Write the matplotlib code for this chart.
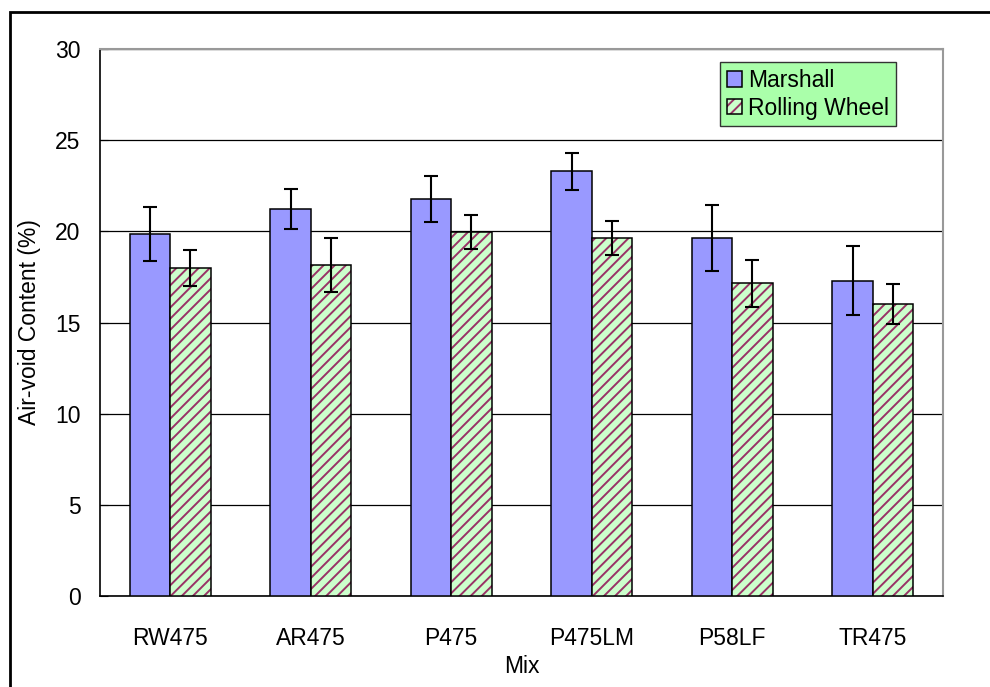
import matplotlib
matplotlib.use('Agg')
import matplotlib.pyplot as plt
from matplotlib.patches import Rectangle, Patch
from matplotlib.legend_handler import HandlerTuple
import numpy as np

# data
mixes = ['RW475', 'AR475', 'P475', 'P475LM', 'P58LF', 'TR475']
marshall = [19.85, 21.23, 21.78, 23.29, 19.64, 17.3]
marshall_err = [1.5, 1.1, 1.25, 1.03, 1.8, 1.87]
rolling = [17.99, 18.16, 19.97, 19.62, 17.15, 16.0]
rolling_err = [1.0, 1.5, 0.92, 0.93, 1.29, 1.1]
yticks = [0, 5, 10, 15, 20, 25, 30]

plt.rcParams['font.family'] = ['Liberation Sans', 'DejaVu Sans']
plt.rcParams['hatch.linewidth'] = 1.4

FS = 16.5
BLUE = '#9999FF'
GREEN = '#CCFFCC'
HATCH = '#993366'

fig = plt.figure(figsize=(9.9, 6.87), dpi=100)
ax = fig.add_axes([100 / 990, 1 - 596 / 687, 843 / 990, 547 / 687])

# outer frame of the figure (extends past right/bottom edges)
fig.patches.append(Rectangle((10 / 990, -0.1), 1.2, 1 - 12 / 687 + 0.1,
                             transform=fig.transFigure, fill=False,
                             edgecolor='black', linewidth=2))

x = np.arange(len(mixes))
w = 0.288
err_kw = dict(ecolor='black', elinewidth=1.5, capsize=5, capthick=1.5)

ax.bar(x - w / 2, marshall, w, color=BLUE, edgecolor='black', linewidth=1.1,
       yerr=marshall_err, error_kw=err_kw, zorder=3)
# hatched fill first (hatch takes the edge colour), black outline on top
ax.bar(x + w / 2, rolling, w, color=GREEN, edgecolor=HATCH, linewidth=0,
       hatch='///', zorder=3)
ax.bar(x + w / 2, rolling, w, fill=False, edgecolor='black', linewidth=1.1,
       yerr=rolling_err, error_kw=err_kw, zorder=3)

ax.set_xlim(-0.5, len(mixes) - 0.5)
ax.set_ylim(0, 30)
ax.set_yticks(yticks)
ax.set_xticks(x)
ax.set_xticklabels(mixes, fontsize=FS)
ax.tick_params(axis='y', labelsize=FS, direction='in', length=6, pad=14)
ax.tick_params(axis='x', length=0, pad=22)

ax.yaxis.grid(True, color='black', linewidth=0.9, zorder=1)
ax.set_axisbelow(True)

ax.spines['left'].set_color('black')
ax.spines['bottom'].set_color('black')
ax.spines['left'].set_linewidth(1.2)
ax.spines['bottom'].set_linewidth(1.2)
ax.spines['top'].set_color('#999999')
ax.spines['right'].set_color('#999999')
ax.spines['top'].set_linewidth(1.5)
ax.spines['right'].set_linewidth(1.5)

ax.set_ylabel('Air-void Content (%)', fontsize=FS, labelpad=10)
ax.set_xlabel('Mix', fontsize=FS, labelpad=4)

h_marshall = Patch(facecolor=BLUE, edgecolor='black', linewidth=1.1)
h_hatch = Patch(facecolor=GREEN, edgecolor=HATCH, linewidth=0, hatch='///')
h_edge = Patch(fill=False, edgecolor='black', linewidth=1.1)
leg = ax.legend([h_marshall, (h_hatch, h_edge)], ['Marshall', 'Rolling Wheel'],
                handler_map={tuple: HandlerTuple(ndivide=1, pad=0)},
                loc='upper right', bbox_to_anchor=(0.944, 0.976),
                borderaxespad=0, fontsize=FS, frameon=True, fancybox=False,
                facecolor='#AAFFAA', edgecolor='#333333', framealpha=1,
                handlelength=0.65, handleheight=0.65, handletextpad=0.25,
                labelspacing=0.2, borderpad=0.3)
leg.get_frame().set_linewidth(1.0)

fig.savefig('out.png', dpi=100)
